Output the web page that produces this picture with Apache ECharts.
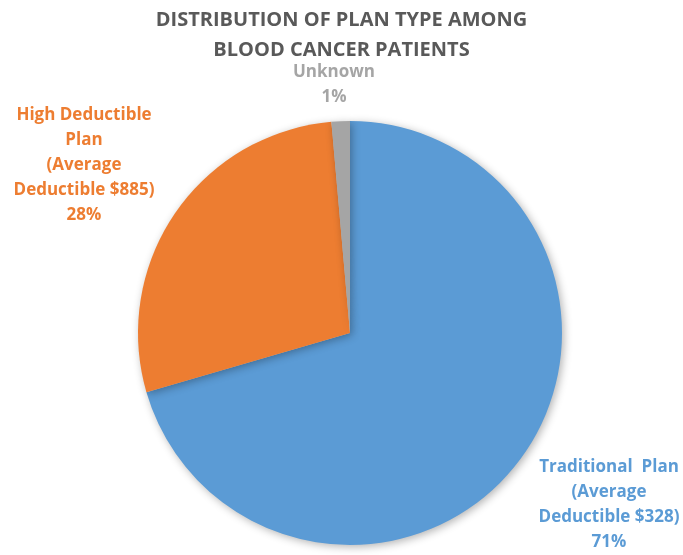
<!DOCTYPE html>
<html><head><meta charset="utf-8">
<script src="https://cdn.jsdelivr.net/npm/echarts@6/dist/echarts.min.js"></script>
<style>html,body{margin:0;padding:0;background:#fff}#c{width:683px;height:555px}</style>
</head><body><div id="c"></div>
<script>
var categories = ['Traditional  Plan\n(Average\nDeductible $328)', 'High Deductible\nPlan\n(Average\nDeductible $885)', 'Unknown'];
var values = [70.5, 28.1, 1.4];
var colors = ['#5B9BD5', '#ED7D31', '#A5A5A5'];
var titleText = 'DISTRIBUTION OF PLAN TYPE AMONG\nBLOOD CANCER PATIENTS';

var labelPos = [[609, 505], [84, 165], [334, 85]];
var chart = echarts.init(document.getElementById('c'));
chart.setOption({
  animation: false,
  title: {
    text: titleText, left: 'center', top: 0,
    textStyle: {fontFamily: 'Open Sans', fontWeight: 'bold', fontSize: 20, color: '#595959', lineHeight: 30}
  },
  series: [{
    type: 'pie', center: [350, 333], radius: 212, startAngle: 90, clockwise: true,
    data: categories.map(function (c, i) { return {name: c, value: values[i], itemStyle: {color: colors[i]}, label: {color: colors[i]}}; }),
    itemStyle: {shadowBlur: 8, shadowColor: 'rgba(0,0,0,0.3)', shadowOffsetX: 2, shadowOffsetY: 2},
    label: {
      show: true, position: 'outside', fontFamily: 'Open Sans', fontWeight: 'bold', fontSize: 17, lineHeight: 25, align: 'center',
      overflow: 'none', width: 300,
      formatter: function (p) { return p.name + '\n' + Math.round(p.percent) + '%'; }
    },
    labelLine: {show: false},
    labelLayout: function (p) { var q = labelPos[p.dataIndex]; return {x: q[0], y: q[1], align: 'center', verticalAlign: 'middle'}; }
  }]
});
</script></body></html>
